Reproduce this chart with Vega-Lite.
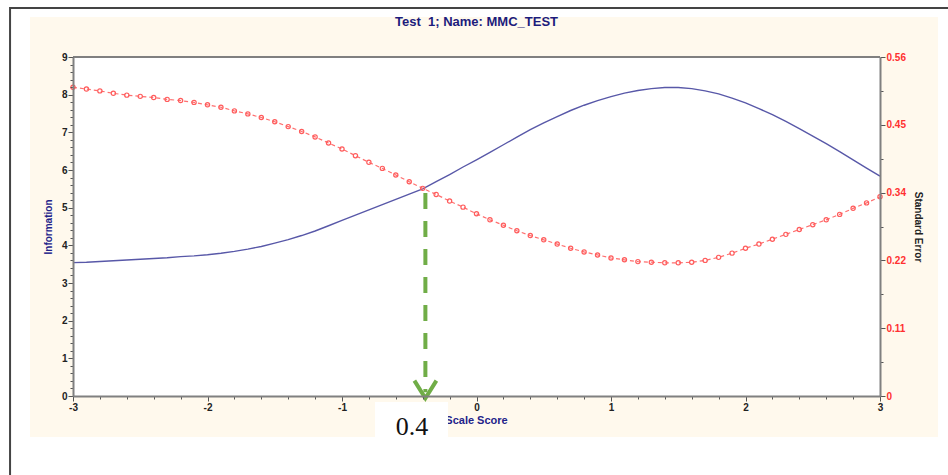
{
  "$schema": "https://vega.github.io/schema/vega-lite/v6.json",
  "width": 807,
  "height": 339,
  "autosize": {"type": "none"},
  "padding": {"left": 73, "top": 57, "right": 68, "bottom": 79},
  "background": "white",
  "config": {"view": {"stroke": null}, "font": "Liberation Sans", "axis": {"labelOverlap": false, "labelFlush": false, "labelBound": false, "tickCount": 200}},
  "data": {"values": [
    {"x": -3.0, "info": 3.54, "se": 0.510},
    {"x": -2.9, "info": 3.55, "se": 0.507},
    {"x": -2.8, "info": 3.57, "se": 0.504},
    {"x": -2.7, "info": 3.59, "se": 0.500},
    {"x": -2.6, "info": 3.61, "se": 0.497},
    {"x": -2.5, "info": 3.63, "se": 0.495},
    {"x": -2.4, "info": 3.65, "se": 0.493},
    {"x": -2.3, "info": 3.67, "se": 0.490},
    {"x": -2.2, "info": 3.70, "se": 0.488},
    {"x": -2.1, "info": 3.72, "se": 0.485},
    {"x": -2.0, "info": 3.75, "se": 0.481},
    {"x": -1.9, "info": 3.79, "se": 0.477},
    {"x": -1.8, "info": 3.84, "se": 0.471},
    {"x": -1.7, "info": 3.90, "se": 0.466},
    {"x": -1.6, "info": 3.97, "se": 0.460},
    {"x": -1.5, "info": 4.06, "se": 0.453},
    {"x": -1.4, "info": 4.15, "se": 0.445},
    {"x": -1.3, "info": 4.26, "se": 0.437},
    {"x": -1.2, "info": 4.38, "se": 0.428},
    {"x": -1.1, "info": 4.52, "se": 0.418},
    {"x": -1.0, "info": 4.66, "se": 0.408},
    {"x": -0.9, "info": 4.80, "se": 0.397},
    {"x": -0.8, "info": 4.94, "se": 0.386},
    {"x": -0.7, "info": 5.08, "se": 0.376},
    {"x": -0.6, "info": 5.22, "se": 0.365},
    {"x": -0.5, "info": 5.36, "se": 0.354},
    {"x": -0.4, "info": 5.50, "se": 0.343},
    {"x": -0.3, "info": 5.69, "se": 0.333},
    {"x": -0.2, "info": 5.88, "se": 0.322},
    {"x": -0.1, "info": 6.08, "se": 0.312},
    {"x": 0.0, "info": 6.27, "se": 0.301},
    {"x": 0.1, "info": 6.47, "se": 0.291},
    {"x": 0.2, "info": 6.67, "se": 0.282},
    {"x": 0.3, "info": 6.87, "se": 0.273},
    {"x": 0.4, "info": 7.07, "se": 0.265},
    {"x": 0.5, "info": 7.25, "se": 0.258},
    {"x": 0.6, "info": 7.42, "se": 0.251},
    {"x": 0.7, "info": 7.58, "se": 0.244},
    {"x": 0.8, "info": 7.72, "se": 0.238},
    {"x": 0.9, "info": 7.84, "se": 0.233},
    {"x": 1.0, "info": 7.95, "se": 0.228},
    {"x": 1.1, "info": 8.04, "se": 0.225},
    {"x": 1.2, "info": 8.11, "se": 0.222},
    {"x": 1.3, "info": 8.16, "se": 0.221},
    {"x": 1.4, "info": 8.19, "se": 0.220},
    {"x": 1.5, "info": 8.19, "se": 0.220},
    {"x": 1.6, "info": 8.16, "se": 0.221},
    {"x": 1.7, "info": 8.10, "se": 0.224},
    {"x": 1.8, "info": 8.02, "se": 0.229},
    {"x": 1.9, "info": 7.91, "se": 0.236},
    {"x": 2.0, "info": 7.78, "se": 0.244},
    {"x": 2.1, "info": 7.63, "se": 0.251},
    {"x": 2.2, "info": 7.47, "se": 0.259},
    {"x": 2.3, "info": 7.29, "se": 0.267},
    {"x": 2.4, "info": 7.10, "se": 0.275},
    {"x": 2.5, "info": 6.90, "se": 0.283},
    {"x": 2.6, "info": 6.70, "se": 0.291},
    {"x": 2.7, "info": 6.49, "se": 0.300},
    {"x": 2.8, "info": 6.27, "se": 0.310},
    {"x": 2.9, "info": 6.05, "se": 0.319},
    {"x": 3.0, "info": 5.84, "se": 0.329}
  ]},
  "layer": [
    {
      "layer": [
        {
          "data": {"values": [{}]},
          "mark": {"type": "rect", "fill": null, "stroke": "#444444", "strokeWidth": 2},
          "encoding": {
            "x": {"datum": -3.468, "type": "quantitative", "scale": {"domain": [-3, 3], "nice": false, "zero": false}},
            "x2": {"datum": 4.5},
            "y": {"datum": 10.3, "type": "quantitative", "scale": {"domain": [0, 9], "nice": false}},
            "y2": {"datum": -3.0}
          }
        },
        {
          "data": {"values": [{}]},
          "mark": {"type": "rect", "fill": "#fff9ed"},
          "encoding": {
            "x": {"datum": -3.32, "type": "quantitative"},
            "x2": {"datum": 3.431},
            "y": {"datum": 10.06, "type": "quantitative"},
            "y2": {"datum": -1.087}
          }
        },
        {
          "data": {"values": [{}]},
          "mark": {"type": "rect", "fill": "white"},
          "encoding": {
            "x": {"datum": -3, "type": "quantitative"},
            "x2": {"datum": 3},
            "y": {"datum": 9, "type": "quantitative"},
            "y2": {"datum": 0}
          }
        },
        {
          "data": {"values": [{}]},
          "mark": {"type": "rule", "stroke": "#808080", "strokeWidth": 2},
          "encoding": {
            "x": {"datum": -3, "type": "quantitative"},
            "x2": {"datum": 3},
            "y": {"datum": 9, "type": "quantitative"}
          }
        },
        {
          "data": {"values": [{"t": "Test \u00a01; Name: MMC_TEST"}]},
          "mark": {"type": "text", "fontSize": 13, "fontWeight": "bold", "color": "#1c1c7c", "baseline": "middle", "align": "center"},
          "encoding": {
            "x": {"datum": 0, "type": "quantitative"},
            "y": {"datum": 9.93, "type": "quantitative"},
            "text": {"field": "t"}
          }
        },
        {
          "mark": {"type": "line", "color": "#5858a8", "strokeWidth": 1.4},
          "encoding": {
            "x": {
              "field": "x", "type": "quantitative",
              "scale": {"domain": [-3, 3], "nice": false, "zero": false},
              "axis": {
                "title": null, "zindex": 1, "tickCount": 200,
                "values": [-3,-2.8,-2.6,-2.4,-2.2,-2,-1.8,-1.6,-1.4,-1.2,-1,-0.8,-0.6,-0.4,-0.2,0,0.2,0.4,0.6,0.8,1,1.2,1.4,1.6,1.8,2,2.2,2.4,2.6,2.8,3],
                "labelExpr": "abs(datum.value-round(datum.value))<0.01 ? toString(round(datum.value)) : ''",
                "labelOverlap": false, "labelFlush": false,
                "labelFontWeight": "bold", "labelFontSize": 10, "labelColor": "#222222", "labelPadding": 1,
                "domainColor": "#808080", "domainWidth": 2,
                "tickColor": "#555555", "tickWidth": 1,
                "tickSize": {"condition": {"test": "abs(datum.value-round(datum.value))<0.01", "value": 5}, "value": 3},
                "grid": false
              }
            },
            "y": {
              "field": "info", "type": "quantitative",
              "scale": {"domain": [0, 9], "nice": false},
              "axis": {
                "title": "Information", "zindex": 1, "tickCount": 200,
                "titleFontSize": 10, "titleFontWeight": "bold", "titleColor": "#23238a", "titlePadding": 8,
                "values": [0,0.2,0.4,0.6,0.8,1,1.2,1.4,1.6,1.8,2,2.2,2.4,2.6,2.8,3,3.2,3.4,3.6,3.8,4,4.2,4.4,4.6,4.8,5,5.2,5.4,5.6,5.8,6,6.2,6.4,6.6,6.8,7,7.2,7.4,7.6,7.8,8,8.2,8.4,8.6,8.8,9],
                "labelExpr": "abs(datum.value-round(datum.value))<0.01 ? toString(round(datum.value)) : ''",
                "labelOverlap": false, "labelFlush": false,
                "labelFontWeight": "bold", "labelFontSize": 10, "labelColor": "#222222", "labelPadding": 1,
                "domainColor": "#808080", "domainWidth": 2,
                "tickColor": "#555555", "tickWidth": 1,
                "tickSize": {"condition": {"test": "abs(datum.value-round(datum.value))<0.01", "value": 5}, "value": 3},
                "grid": false
              }
            }
          }
        },
        {
          "data": {"values": [{}]},
          "mark": {"type": "rule", "stroke": "#70ad47", "strokeWidth": 4, "strokeDash": [16, 12]},
          "encoding": {
            "x": {"datum": -0.38, "type": "quantitative"},
            "y": {"datum": 5.39, "type": "quantitative"},
            "y2": {"datum": 0.1}
          }
        },
        {
          "data": {"values": [{}]},
          "mark": {"type": "point", "shape": "M-1,-1.6L0,0L1,-1.6", "size": 484, "filled": false, "stroke": "#70ad47", "strokeWidth": 4, "opacity": 1},
          "encoding": {
            "x": {"datum": -0.38, "type": "quantitative"},
            "y": {"datum": -0.06, "type": "quantitative"}
          }
        },
        {
          "data": {"values": [{"t": "Scale Score"}]},
          "mark": {"type": "text", "fontSize": 11, "fontWeight": "bold", "color": "#23238a", "baseline": "middle", "align": "center"},
          "encoding": {
            "x": {"datum": 0, "type": "quantitative"},
            "y": {"datum": -0.66, "type": "quantitative"},
            "text": {"field": "t"}
          }
        },
        {
          "data": {"values": [{}]},
          "mark": {"type": "rect", "fill": "white"},
          "encoding": {
            "x": {"datum": -0.755, "type": "quantitative"},
            "x2": {"datum": -0.212},
            "y": {"datum": -0.16, "type": "quantitative"},
            "y2": {"datum": -1.09}
          }
        },
        {
          "data": {"values": [{"t": "0.4"}]},
          "mark": {"type": "text", "font": "Liberation Serif", "fontSize": 26, "color": "#111111", "baseline": "alphabetic", "align": "center"},
          "encoding": {
            "x": {"datum": -0.48, "type": "quantitative"},
            "y": {"datum": -1.03, "type": "quantitative"},
            "text": {"field": "t"}
          }
        }
      ]
    },
    {
      "layer": [
        {
          "mark": {"type": "line", "color": "#ff6f6f", "strokeWidth": 1.2, "strokeDash": [4, 3]},
          "encoding": {
            "x": {"field": "x", "type": "quantitative"},
            "y": {
              "field": "se", "type": "quantitative",
              "scale": {"domain": [0, 0.56], "nice": false},
              "axis": {
                "orient": "right", "title": "Standard Error", "zindex": 1, "tickCount": 200,
                "titleFontSize": 10, "titleFontWeight": "bold", "titleColor": "#222222", "titlePadding": 7, "titleAngle": 90,
                "values": [0,0.056,0.112,0.168,0.224,0.28,0.336,0.392,0.448,0.504,0.56],
                "labelExpr": "abs(datum.value/0.112-round(datum.value/0.112))<0.01 ? (datum.value==0 ? '0' : format(datum.value, '.2f')) : ''",
                "labelOverlap": false, "labelFlush": false,
                "labelFontWeight": "bold", "labelFontSize": 10, "labelColor": "#ff3030", "labelPadding": 1,
                "domainColor": "#808080", "domainWidth": 2,
                "tickColor": "#555555", "tickWidth": 1,
                "tickSize": {"condition": {"test": "abs(datum.value/0.112-round(datum.value/0.112))<0.01", "value": 5}, "value": 3},
                "grid": false
              }
            }
          }
        },
        {
          "mark": {"type": "point", "filled": false, "stroke": "#ff5c5c", "strokeWidth": 1.2, "size": 18, "opacity": 1},
          "encoding": {
            "x": {"field": "x", "type": "quantitative"},
            "y": {"field": "se", "type": "quantitative"}
          }
        }
      ]
    }
  ],
  "resolve": {"scale": {"y": "independent"}}
}
